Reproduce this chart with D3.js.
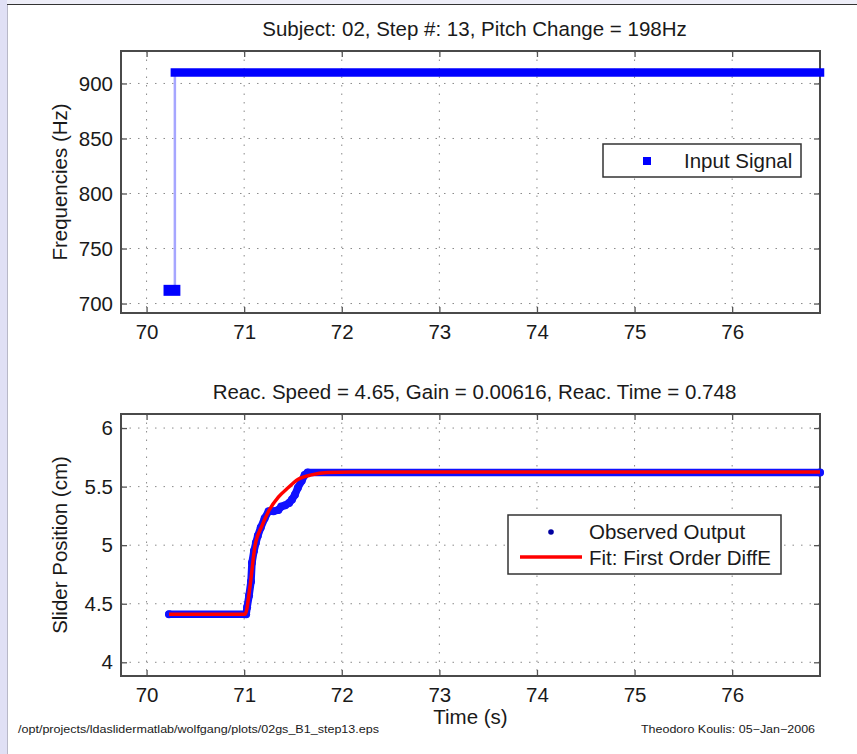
<!DOCTYPE html>
<html>
<head>
<meta charset="utf-8">
<script src="https://cdn.jsdelivr.net/npm/d3@7"></script>
<style>
  body { margin: 0; background: #fff; }
  svg text { font-family: "Liberation Sans", Arial, Helvetica, sans-serif; fill: #1a1a1a; }
</style>
</head>
<body>
<svg id="chart" width="857" height="754"></svg>
<script>
// ---- data ----
const xTicks = [70, 71, 72, 73, 74, 75, 76];
const freqTicks = [700, 750, 800, 850, 900];
const sliderTicks = [4, 4.5, 5, 5.5, 6];
const sliderTickLabels = ["4", "4.5", "5", "5.5", "6"];

// input pitch signal (Hz): baseline, then step of 198 Hz
const inputTime = [70.23, 70.29, 70.29, 76.90];
const inputHz   = [712, 712, 910, 910];

// observed slider output (cm)
const obsTime = [70.23, 71.02, 71.03, 71.05, 71.07, 71.08, 71.10, 71.12, 71.14, 71.17, 71.21,
                 71.25, 71.30, 71.35, 71.38, 71.42, 71.46, 71.49, 71.52, 71.55, 71.59, 71.62, 71.65, 76.90];
const obsPos  = [4.41, 4.41, 4.47, 4.57, 4.69, 4.85, 4.95, 5.02, 5.08, 5.15, 5.23,
                 5.29, 5.29, 5.30, 5.33, 5.34, 5.36, 5.39, 5.43, 5.49, 5.55, 5.60, 5.62, 5.62];

// first-order fit curve (cm)
const fitTime = [70.23, 71.01, 71.06, 71.11, 71.18, 71.25, 71.35, 71.45, 71.55, 71.69, 71.85, 72.10, 76.90];
const fitPos  = [4.41, 4.41, 4.65, 4.99, 5.16, 5.29, 5.41, 5.49, 5.56, 5.60, 5.62, 5.625, 5.625];

const topTitle = "Subject: 02, Step #: 13, Pitch Change = 198Hz";
const bottomTitle = "Reac. Speed = 4.65, Gain = 0.00616, Reac. Time = 0.748";
const footLeft = "/opt/projects/ldaslidermatlab/wolfgang/plots/02gs_B1_step13.eps";
const footRight = "Theodoro Koulis: 05\u2212Jan\u22122006";

// ---- layout ----
const svg = d3.select("#chart");
const W = 857, H = 754;
const left = 121, right = 820;
const top1 = [51, 313], top2 = [414, 676];
const FS = 20.5;

// page surround
svg.append("rect").attr("x", 0).attr("y", 0).attr("width", W).attr("height", H).attr("fill", "#fff");
svg.append("rect").attr("x", 0).attr("y", 0).attr("width", 7).attr("height", H).attr("fill", "#e0e0f5");
svg.append("rect").attr("x", 7).attr("y", 0).attr("width", W - 7).attr("height", 4).attr("fill", "#eeeef8");
svg.append("line").attr("x1", 7.5).attr("x2", 7.5).attr("y1", 4).attr("y2", H).attr("stroke", "#b8b8c8");
svg.append("line").attr("x1", 7).attr("x2", W).attr("y1", 4.5).attr("y2", 4.5).attr("stroke", "#333").attr("stroke-width", 1.2);

const x = d3.scaleLinear().domain([69.738, 76.9]).range([left, right]);
const y1 = d3.scaleLinear().domain([691.4, 929.5]).range([top1[1], top1[0]]);
const y2 = d3.scaleLinear().domain([3.883, 6.12]).range([top2[1], top2[0]]);

function panel(y, yr, yTicks, yFmt, title, ylabel) {
  const g = svg.append("g");
  // dotted grid
  g.selectAll(".gx").data(xTicks).join("line")
    .attr("x1", d => x(d)).attr("x2", d => x(d)).attr("y1", yr[0]).attr("y2", yr[1])
    .attr("stroke", "#8a8a8a").attr("stroke-width", 1).attr("stroke-dasharray", "1.5,7");
  g.selectAll(".gy").data(yTicks).join("line")
    .attr("x1", left).attr("x2", right).attr("y1", d => y(d)).attr("y2", d => y(d))
    .attr("stroke", "#8a8a8a").attr("stroke-width", 1).attr("stroke-dasharray", "1.5,7");

  // axes (ticks pointing inwards on all four sides)
  const ax = [
    g.append("g").attr("transform", `translate(0,${yr[1]})`)
      .call(d3.axisBottom(x).tickValues(xTicks).tickFormat(d3.format("d")).tickSize(-6).tickPadding(11)),
    g.append("g").attr("transform", `translate(0,${yr[0]})`)
      .call(d3.axisTop(x).tickValues(xTicks).tickFormat("").tickSize(-6)),
    g.append("g").attr("transform", `translate(${left},0)`)
      .call(d3.axisLeft(y).tickValues(yTicks).tickFormat(yFmt).tickSize(-6).tickPadding(8)),
    g.append("g").attr("transform", `translate(${right},0)`)
      .call(d3.axisRight(y).tickValues(yTicks).tickFormat("").tickSize(-6))
  ];
  ax.forEach(a => {
    a.select(".domain").remove();
    a.selectAll(".tick line").attr("stroke", "#555").attr("stroke-width", 1.3);
    a.selectAll(".tick text").attr("font-size", FS).attr("fill", "#1a1a1a")
      .attr("font-family", '"Liberation Sans", Arial, sans-serif');
  });

  // frame
  g.append("rect").attr("x", left).attr("y", yr[0]).attr("width", right - left).attr("height", yr[1] - yr[0])
    .attr("fill", "none").attr("stroke", "#4a4a4a").attr("stroke-width", 2);

  svg.append("text").attr("x", (left + right) / 2 + 4).attr("y", yr[0] - 15)
    .attr("text-anchor", "middle").attr("font-size", FS).text(title);
  svg.append("text")
    .attr("transform", `translate(67,${(yr[0] + yr[1]) / 2}) rotate(-90)`)
    .attr("text-anchor", "middle").attr("font-size", FS).text(ylabel);
  return g;
}

panel(y1, top1, freqTicks, d3.format("d"), topTitle, "Frequencies (Hz)");
panel(y2, top2, sliderTicks, (d, i) => sliderTickLabels[i], bottomTitle, "Slider Position (cm)");

// ---- input signal ----
const inPts = inputTime.map((t, i) => [t, inputHz[i]]);
svg.append("path")
  .attr("d", d3.line().x(d => x(d[0])).y(d => y1(d[1]))(inPts))
  .attr("fill", "none").attr("stroke", "#a6a6ff").attr("stroke-width", 2.5);
// runs of held level, drawn as a continuous trail of square markers
for (let i = 0; i < inPts.length - 1; i++) {
  if (inPts[i][1] === inPts[i + 1][1]) {
    svg.append("line")
      .attr("x1", x(inPts[i][0])).attr("x2", x(inPts[i + 1][0]))
      .attr("y1", y1(inPts[i][1])).attr("y2", y1(inPts[i + 1][1]))
      .attr("stroke", "#0000ff").attr("stroke-width", i === 0 ? 11 : 8.5)
      .attr("stroke-linecap", "square").attr("stroke-linejoin", "round");
  }
}

// ---- observed output ----
const obsPts = obsTime.map((t, i) => [t, obsPos[i]]);
svg.append("path")
  .attr("d", d3.line().x(d => x(d[0])).y(d => y2(d[1]))(obsPts))
  .attr("fill", "none").attr("stroke", "#1010ff").attr("stroke-width", 7.5)
  .attr("stroke-linecap", "round").attr("stroke-linejoin", "round");
svg.append("g").selectAll("circle").data(obsPts).join("circle")
  .attr("cx", d => x(d[0])).attr("cy", d => y2(d[1])).attr("r", 4)
  .attr("fill", "#1010ff");

// ---- fit ----
const fitPts = fitTime.map((t, i) => [t, fitPos[i]]);
svg.append("path")
  .attr("d", d3.line().curve(d3.curveMonotoneX).x(d => x(d[0])).y(d => y2(d[1]))(fitPts))
  .attr("fill", "none").attr("stroke", "#ff0000").attr("stroke-width", 3.5);

// ---- legends ----
const lg1 = svg.append("g");
lg1.append("rect").attr("x", 603).attr("y", 144).attr("width", 198).attr("height", 33)
  .attr("fill", "#fff").attr("stroke", "#333").attr("stroke-width", 1.5);
lg1.append("rect").attr("x", 643).attr("y", 157).attr("width", 8).attr("height", 8).attr("fill", "#0000ff");
lg1.append("text").attr("x", 684).attr("y", 168).attr("font-size", FS).text("Input Signal");

const lg2 = svg.append("g");
lg2.append("rect").attr("x", 508).attr("y", 515).attr("width", 273).attr("height", 59)
  .attr("fill", "#fff").attr("stroke", "#333").attr("stroke-width", 1.5);
lg2.append("circle").attr("cx", 551).attr("cy", 532).attr("r", 2.8).attr("fill", "#0000a0");
lg2.append("text").attr("x", 589).attr("y", 539).attr("font-size", FS).text("Observed Output");
lg2.append("line").attr("x1", 520).attr("x2", 582).attr("y1", 557).attr("y2", 557)
  .attr("stroke", "#ff0000").attr("stroke-width", 3.5);
lg2.append("text").attr("x", 589).attr("y", 565).attr("font-size", FS).text("Fit: First Order DiffE");

// ---- x label and footers ----
svg.append("text").attr("x", (left + right) / 2).attr("y", 724).attr("text-anchor", "middle")
  .attr("font-size", FS).text("Time (s)");
svg.append("text").attr("x", 18).attr("y", 733).attr("font-size", 10.5)
  .attr("textLength", 361).attr("lengthAdjust", "spacingAndGlyphs").attr("fill", "#333").text(footLeft);
svg.append("text").attr("x", 641).attr("y", 733).attr("font-size", 10.5)
  .attr("textLength", 174).attr("lengthAdjust", "spacingAndGlyphs").attr("fill", "#333").text(footRight);
</script>
</body>
</html>
